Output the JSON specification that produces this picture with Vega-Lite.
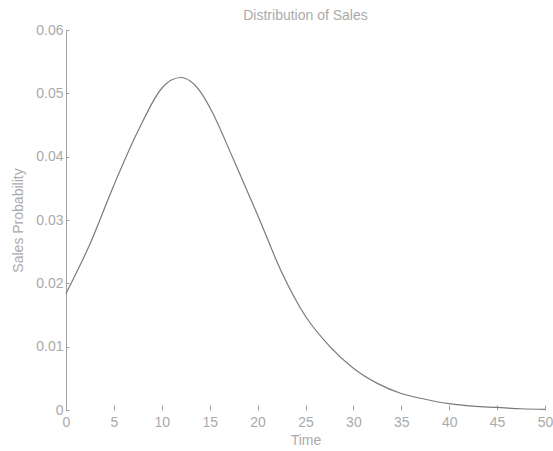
{
  "$schema": "https://vega.github.io/schema/vega-lite/v6.json",
  "width": 479,
  "height": 380,
  "autosize": "none",
  "padding": {"left": 66, "top": 30, "right": 8, "bottom": 41},
  "background": "white",
  "title": {"text": "Distribution of Sales", "fontSize": 14, "fontWeight": "normal", "color": "#aaaaaa", "font": "Liberation Sans", "offset": 0, "anchor": "middle"},
  "config": {
    "view": {"stroke": null},
    "axis": {"labelFont": "Liberation Sans", "titleFont": "Liberation Sans", "labelFontSize": 14, "titleFontSize": 14, "titleFontWeight": "normal", "labelColor": "#aaaaaa", "titleColor": "#aaaaaa", "grid": false, "domainColor": "#a0a0a0", "tickColor": "#a0a0a0"}
  },
  "data": {"values": [
    {"t": 0, "p": 0.0184},
    {"t": 2.5, "p": 0.0262},
    {"t": 5, "p": 0.0355},
    {"t": 7.5, "p": 0.0440},
    {"t": 10, "p": 0.0508},
    {"t": 11, "p": 0.0521},
    {"t": 12, "p": 0.0525},
    {"t": 13, "p": 0.0519},
    {"t": 14, "p": 0.0503},
    {"t": 15, "p": 0.0478},
    {"t": 17.5, "p": 0.0395},
    {"t": 20, "p": 0.0308},
    {"t": 22.5, "p": 0.0218},
    {"t": 25, "p": 0.0148},
    {"t": 27.5, "p": 0.0101},
    {"t": 30, "p": 0.0066},
    {"t": 32.5, "p": 0.0042},
    {"t": 35, "p": 0.0026},
    {"t": 37.5, "p": 0.0017},
    {"t": 40, "p": 0.0010},
    {"t": 42.5, "p": 0.0006},
    {"t": 45, "p": 0.0004},
    {"t": 47.5, "p": 0.0002},
    {"t": 50, "p": 0.0001}
  ]},
  "mark": {"type": "line", "color": "#7a7a7a", "strokeWidth": 1.2, "interpolate": "monotone"},
  "encoding": {
    "x": {"field": "t", "type": "quantitative", "title": "Time", "scale": {"domain": [0, 50], "nice": false},
      "axis": {"values": [0,5,10,15,20,25,30,35,40,45,50], "domain": false, "tickSize": -5, "labelPadding": 10, "titlePadding": 4, "format": "d", "labelFlush": false}},
    "y": {"field": "p", "type": "quantitative", "title": "Sales Probability", "scale": {"domain": [0, 0.06], "nice": false},
      "axis": {"values": [0, 0.01, 0.02, 0.03, 0.04, 0.05, 0.06], "tickSize": -3, "labelPadding": 6, "titlePadding": 10, "labelExpr": "datum.value == 0 ? '0' : format(datum.value, '.2f')", "labelFlush": false}}
  }
}
